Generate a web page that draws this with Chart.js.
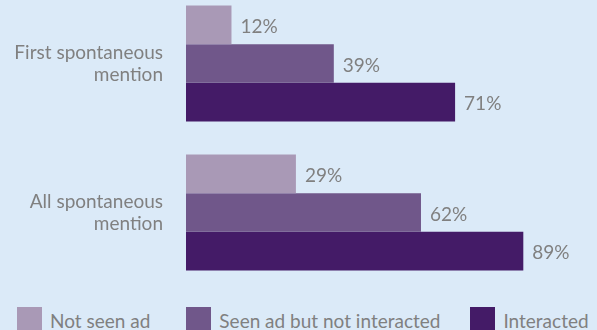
<!DOCTYPE html>
<html>
<head>
<meta charset="utf-8">
<script src="https://cdn.jsdelivr.net/npm/chart.js@4/dist/chart.umd.min.js"></script>
<style>
  html, body { margin: 0; padding: 0; width: 597px; height: 330px; overflow: hidden; background: #dbeaf8; }
  #wrap { position: absolute; left: 0; top: -11px; width: 597px; height: 298px; }
  #legend { position: absolute; left: 17px; top: 307px; display: flex; white-space: nowrap;
            font-family: Lato, sans-serif; font-size: 19px; color: #808080; }
  .item { display: flex; align-items: flex-start; }
  .item.i0 { margin-right: 36px; }
  .item.i1 { margin-right: 30px; }
  .sw { width: 25px; height: 25px; margin-right: 8px; }
  .lt { line-height: 25px; margin-top: 1px; }
</style>
</head>
<body>
<div id="wrap"><canvas id="c" width="597" height="298"></canvas></div>
<div id="legend"></div>
<script>
const categories = [["First spontaneous", "mention"], ["All spontaneous", "mention"]];
const seriesNames = ["Not seen ad", "Seen ad but not interacted", "Interacted"];
const notSeenAd = [12, 29];
const seenNotInteracted = [39, 62];
const interacted = [71, 89];
const colors = ["#a999b6", "#70578a", "#441b67"];
const textColor = "#808080";
const fontFamily = "Lato, sans-serif";

const valueLabels = {
  id: "valueLabels",
  afterDatasetsDraw(chart) {
    const ctx = chart.ctx;
    ctx.save();
    ctx.font = "19px " + fontFamily;
    ctx.fillStyle = textColor;
    ctx.textAlign = "left";
    ctx.textBaseline = "middle";
    chart.data.datasets.forEach((ds, di) => {
      const meta = chart.getDatasetMeta(di);
      meta.data.forEach((el, i) => {
        ctx.fillText(ds.data[i] + "%", el.x + 9, el.y + 2);
      });
    });
    ctx.restore();
  }
};

const seriesData = [notSeenAd, seenNotInteracted, interacted];
const chart = new Chart(document.getElementById("c"), {
  type: "bar",
  data: {
    labels: categories,
    datasets: seriesNames.map((n, i) => ({
      label: n,
      data: seriesData[i],
      backgroundColor: colors[i],
      borderWidth: 0,
      categoryPercentage: 0.778,
      barPercentage: 1.0
    }))
  },
  options: {
    indexAxis: "y",
    responsive: false,
    animation: false,
    layout: { padding: { top: 0, right: 32, bottom: 0, left: 0 } },
    plugins: { legend: { display: false }, tooltip: { enabled: false } },
    scales: {
      x: { display: false, min: 0, max: 100 },
      y: {
        grid: { display: false, drawTicks: false },
        border: { display: false },
        ticks: { color: textColor, font: { family: fontFamily, size: 19, lineHeight: 1.17 }, padding: 23 },
        afterFit(scale) { scale.width = 186; scale.paddingTop = 0; scale.paddingBottom = 0; }
      }
    }
  },
  plugins: [valueLabels]
});

const legend = document.getElementById("legend");
seriesNames.forEach((n, i) => {
  const it = document.createElement("div");
  it.className = "item i" + i;
  const sw = document.createElement("div");
  sw.className = "sw";
  sw.style.background = colors[i];
  const lt = document.createElement("div");
  lt.className = "lt";
  lt.textContent = n;
  it.appendChild(sw);
  it.appendChild(lt);
  legend.appendChild(it);
});
</script>
</body>
</html>
